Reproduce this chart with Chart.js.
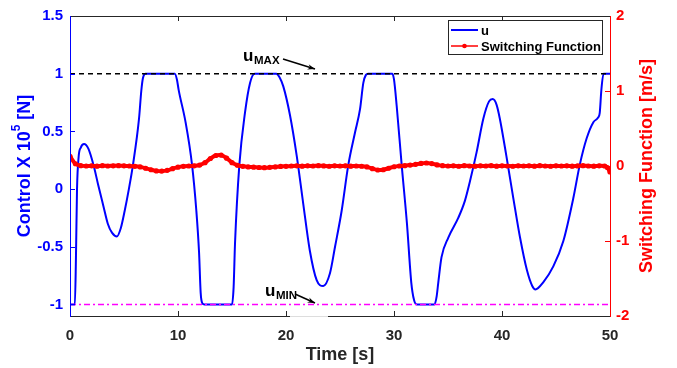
<!DOCTYPE html>
<html>
<head>
<meta charset="utf-8">
<script src="https://cdn.jsdelivr.net/npm/chart.js@4.4.1/dist/chart.umd.min.js"></script>
<style>
  html, body { margin: 0; padding: 0; background: #ffffff; }
  #wrap { width: 677px; height: 368px; }
</style>
</head>
<body>
<div id="wrap"><canvas id="c" width="677" height="368"></canvas></div>
<script>
// ---- data ----
const seriesNames = ["u", "Switching Function"];
const xTicks = [0, 10, 20, 30, 40, 50];
const yLeftTicks = [-1, -0.5, 0, 0.5, 1, 1.5];
const yRightTicks = [-2, -1, 0, 1, 2];
const uMax = 1;
const uMin = -1;

const uTime = [0, 0.45, 0.55, 0.65, 0.8, 1.0, 1.3, 1.7, 2.2, 2.6, 3.1, 3.5, 3.9, 4.35, 4.7, 5.06, 5.45, 5.83, 6.39, 6.6, 6.75, 7.0,
  9.7, 9.9, 10.06, 10.7, 11.3, 11.7, 11.95, 12.1, 12.25, 12.45,
  15.0, 15.15, 15.28, 15.68, 16.2, 16.67, 17.1,
  19.1, 19.4, 19.75, 20.37, 20.99, 21.6, 22.2, 22.84, 23.45, 24.07, 24.54, 25.15, 25.77, 26.39, 26.85, 27.16, 27.4, 27.6,
  29.85, 30.0, 30.25, 30.71, 31.2, 31.6, 31.85, 32.1,
  33.75, 33.95, 34.1, 34.4, 35.03, 35.95, 36.57, 37.04, 37.65, 38.27, 38.8, 39.14, 39.5, 39.8, 40.4, 41.05, 41.67, 42.3, 42.8, 43.1,
  43.8, 44.75, 45.68, 46.6, 47.2, 47.84, 48.46, 48.9, 49.05, 49.2, 49.4, 50];
const uValues = [-1, -1, -0.6, 0.0, 0.28, 0.36, 0.39, 0.35, 0.2, 0.04, -0.15, -0.30, -0.38, -0.41, -0.34, -0.19, 0.0, 0.21, 0.61, 0.85, 0.96, 1.0,
  1.0, 0.95, 0.86, 0.58, 0.21, -0.19, -0.55, -0.9, -0.99, -1.0,
  -1.0, -0.85, -0.47, 0.21, 0.66, 0.92, 1.0,
  1.0, 0.97, 0.89, 0.64, 0.29, -0.13, -0.53, -0.79, -0.84, -0.73, -0.50, -0.19, 0.21, 0.49, 0.69, 0.92, 0.99, 1.0,
  1.0, 0.95, 0.72, 0.21, -0.30, -0.81, -0.96, -1.0,
  -1.0, -0.93, -0.81, -0.59, -0.42, -0.25, -0.10, 0.07, 0.32, 0.61, 0.76, 0.78, 0.73, 0.61, 0.29, -0.08, -0.42, -0.70, -0.84, -0.87,
  -0.81, -0.67, -0.45, -0.08, 0.21, 0.44, 0.58, 0.62, 0.66, 0.86, 1.0, 1.0];

const sTime = [0, 0.5, 1, 1.5, 2, 2.5, 3, 3.5, 4, 4.5, 5, 5.5, 6, 6.5, 7, 7.5, 8, 8.5, 9, 9.5,
  10, 10.5, 11, 11.5, 12, 12.5, 13, 13.5, 14, 14.5, 15, 15.5, 16, 16.5, 17, 17.5, 18, 18.5, 19, 19.5,
  20, 20.5, 21, 21.5, 22, 22.5, 23, 23.5, 24, 24.5, 25, 25.5, 26, 26.5, 27, 27.5, 28, 28.5, 29, 29.5,
  30, 30.5, 31, 31.5, 32, 32.5, 33, 33.5, 34, 34.5, 35, 35.5, 36, 36.5, 37, 37.5, 38, 38.5, 39, 39.5,
  40, 40.5, 41, 41.5, 42, 42.5, 43, 43.5, 44, 44.5, 45, 45.5, 46, 46.5, 47, 47.5, 48, 48.5, 49, 49.5, 49.75, 50];
const sValues = [0.13, 0.03, 0.005, 0.0, 0.003, -0.002, 0.004, 0.0, 0.003, 0.005, 0.002, 0.0, -0.004, -0.012, -0.03, -0.05, -0.065, -0.068, -0.058, -0.035,
  -0.015, -0.004, 0.0, 0.002, 0.012, 0.045, 0.1, 0.14, 0.145, 0.105, 0.045, 0.01, -0.004, -0.012, -0.015, -0.02, -0.022, -0.018, -0.012, -0.006,
  -0.004, 0.0, 0.003, -0.002, 0.002, 0.0, 0.004, 0.001, -0.003, 0.002, 0.0, 0.003, -0.002, 0.0, -0.003, -0.012, -0.035, -0.053, -0.05, -0.03,
  -0.01, 0.0, 0.005, 0.012, 0.022, 0.035, 0.04, 0.032, 0.015, 0.005, 0.0, 0.002, -0.003, 0.004, 0.0, -0.002, 0.003, 0.0, 0.004, -0.002,
  0.002, 0.0, -0.003, 0.003, 0.0, 0.002, -0.002, 0.004, 0.0, -0.003, 0.002, 0.0, 0.003, -0.002, 0.001, 0.004, 0.0, -0.002, 0.003, 0.0, -0.02, -0.08];

// ---- build chart ----
const uData = uTime.map((t, i) => ({ x: t, y: uValues[i] }));
const sData = sTime.map((t, i) => ({ x: t, y: sValues[i] }));
const maxData = [{ x: xTicks[0], y: uMax }, { x: xTicks[xTicks.length - 1], y: uMax }];
const minData = [{ x: xTicks[0], y: uMin }, { x: xTicks[xTicks.length - 1], y: uMin }];

const FONT = "'Liberation Sans', Arial, sans-serif";
const DARK = '#262626';

const decor = {
  id: 'decor',
  afterDraw(chart) {
    const { ctx, chartArea: ca, scales } = chart;
    const x = scales.x, yL = scales.yL, yR = scales.yR;
    ctx.save();
    ctx.lineWidth = 1;
    // ticks inside
    ctx.strokeStyle = DARK;
    ctx.beginPath();
    xTicks.forEach(v => {
      const px = Math.round(x.getPixelForValue(v)) + 0.5;
      ctx.moveTo(px, ca.bottom); ctx.lineTo(px, ca.bottom - 5);
      ctx.moveTo(px, ca.top); ctx.lineTo(px, ca.top + 5);
    });
    ctx.stroke();
    ctx.strokeStyle = '#0000ff';
    ctx.beginPath();
    yLeftTicks.forEach(v => {
      const py = Math.round(yL.getPixelForValue(v)) + 0.5;
      ctx.moveTo(ca.left, py); ctx.lineTo(ca.left + 5, py);
    });
    ctx.stroke();
    ctx.strokeStyle = '#ff0000';
    ctx.beginPath();
    yRightTicks.forEach(v => {
      const py = Math.round(yR.getPixelForValue(v)) + 0.5;
      ctx.moveTo(ca.right, py); ctx.lineTo(ca.right - 5, py);
    });
    ctx.stroke();
    // frame
    ctx.strokeStyle = DARK;
    ctx.beginPath();
    ctx.moveTo(ca.left, ca.top + 0.5); ctx.lineTo(ca.right, ca.top + 0.5);
    ctx.moveTo(ca.left, ca.bottom + 0.5); ctx.lineTo(ca.right, ca.bottom + 0.5);
    ctx.stroke();
    // light patch on bottom axis (annotation box remnant)
    ctx.strokeStyle = '#dddddd';
    ctx.beginPath();
    ctx.moveTo(290, ca.bottom + 0.5); ctx.lineTo(328, ca.bottom + 0.5);
    ctx.stroke();
    ctx.strokeStyle = '#0000ff';
    ctx.beginPath();
    ctx.moveTo(ca.left + 0.5, ca.top); ctx.lineTo(ca.left + 0.5, ca.bottom + 1);
    ctx.stroke();
    ctx.strokeStyle = '#ff0000';
    ctx.beginPath();
    ctx.moveTo(ca.right + 0.5, ca.top); ctx.lineTo(ca.right + 0.5, ca.bottom + 1);
    ctx.stroke();

    // legend
    ctx.fillStyle = '#ffffff';
    ctx.fillRect(448, 21, 154, 33);
    ctx.strokeStyle = DARK;
    ctx.strokeRect(448.5, 20.5, 154, 34);
    ctx.lineWidth = 2;
    ctx.strokeStyle = '#0000ff';
    ctx.beginPath(); ctx.moveTo(451, 30); ctx.lineTo(478, 30); ctx.stroke();
    ctx.lineWidth = 1.5;
    ctx.strokeStyle = '#ff0000';
    ctx.beginPath(); ctx.moveTo(451, 46); ctx.lineTo(478, 46); ctx.stroke();
    ctx.fillStyle = '#ff0000';
    ctx.beginPath(); ctx.arc(464.5, 46, 2.3, 0, Math.PI * 2); ctx.fill();
    ctx.fillStyle = '#000000';
    ctx.font = 'bold 13px ' + FONT;
    ctx.textAlign = 'left';
    ctx.textBaseline = 'alphabetic';
    ctx.fillText(seriesNames[0], 481, 35);
    ctx.fillText(seriesNames[1], 481, 51);

    // annotations
    function arrow(x1, y1, x2, y2) {
      ctx.strokeStyle = '#000000';
      ctx.lineWidth = 1.5;
      ctx.beginPath(); ctx.moveTo(x1, y1); ctx.lineTo(x2, y2); ctx.stroke();
      const a = Math.atan2(y2 - y1, x2 - x1);
      ctx.fillStyle = '#000000';
      ctx.beginPath();
      ctx.moveTo(x2, y2);
      ctx.lineTo(x2 - 8 * Math.cos(a - 0.35), y2 - 8 * Math.sin(a - 0.35));
      ctx.lineTo(x2 - 5 * Math.cos(a), y2 - 5 * Math.sin(a));
      ctx.lineTo(x2 - 8 * Math.cos(a + 0.35), y2 - 8 * Math.sin(a + 0.35));
      ctx.closePath(); ctx.fill();
    }
    ctx.fillStyle = '#000000';
    ctx.font = 'bold 17px ' + FONT;
    ctx.fillText('u', 243, 61);
    ctx.font = 'bold 11.5px ' + FONT;
    ctx.fillText('MAX', 254, 64);
    arrow(283, 59, 315, 69);
    ctx.font = 'bold 17px ' + FONT;
    ctx.fillStyle = '#000000';
    ctx.fillText('u', 265, 296);
    ctx.font = 'bold 11.5px ' + FONT;
    ctx.fillText('MIN', 276, 299);
    arrow(295, 294, 315, 303);

    // axis titles
    ctx.fillStyle = DARK;
    ctx.font = 'bold 18px ' + FONT;
    ctx.textAlign = 'center';
    ctx.textBaseline = 'alphabetic';
    ctx.fillText('Time [s]', (ca.left + ca.right) / 2, 360);

    // left title with superscript
    const cy = (ca.top + ca.bottom) / 2;
    ctx.save();
    ctx.translate(25, cy);
    ctx.rotate(-Math.PI / 2);
    ctx.fillStyle = '#0000ff';
    ctx.textAlign = 'left';
    ctx.textBaseline = 'middle';
    const p1 = 'Control X 10', p2 = '5', p3 = ' [N]';
    ctx.font = 'bold 18px ' + FONT;
    const w1 = ctx.measureText(p1).width, w3 = ctx.measureText(p3).width;
    ctx.font = 'bold 12px ' + FONT;
    const w2 = ctx.measureText(p2).width;
    let sx = -(w1 + w2 + w3) / 2;
    ctx.font = 'bold 18px ' + FONT;
    ctx.fillText(p1, sx, 0);
    ctx.font = 'bold 12px ' + FONT;
    ctx.fillText(p2, sx + w1, -8);
    ctx.font = 'bold 18px ' + FONT;
    ctx.fillText(p3, sx + w1 + w2, 0);
    ctx.restore();

    // right title
    ctx.save();
    ctx.translate(647, cy);
    ctx.rotate(-Math.PI / 2);
    ctx.fillStyle = '#ff0000';
    ctx.textAlign = 'center';
    ctx.textBaseline = 'middle';
    ctx.font = 'bold 18px ' + FONT;
    ctx.fillText('Switching Function [m/s]', 0, 0);
    ctx.restore();

    ctx.restore();
  }
};

new Chart(document.getElementById('c'), {
  type: 'line',
  data: {
    datasets: [
      { label: 'uMin', data: minData, yAxisID: 'yL', borderColor: '#ff00ff', borderWidth: 1.5,
        borderDash: [6, 3, 2, 3], pointRadius: 0, order: 0 },
      { label: 'uMax', data: maxData, yAxisID: 'yL', borderColor: '#000000', borderWidth: 1.5,
        borderDash: [5, 4], pointRadius: 0, order: 1 },
      { label: seriesNames[1], data: sData, yAxisID: 'yR', borderColor: '#ff0000', backgroundColor: '#ff0000',
        borderWidth: 4, pointRadius: 2.6, pointBorderWidth: 0, pointBackgroundColor: '#ff0000', order: 2, tension: 0.3 },
      { label: seriesNames[0], data: uData, yAxisID: 'yL', borderColor: '#0000ff', borderWidth: 2,
        pointRadius: 0, cubicInterpolationMode: 'monotone', order: 3 }
    ]
  },
  options: {
    responsive: false,
    animation: false,
    devicePixelRatio: 1,
    layout: { padding: { top: 12, left: 0, right: 0, bottom: 0 } },
    plugins: { legend: { display: false }, tooltip: { enabled: false } },
    scales: {
      x: {
        type: 'linear', position: 'bottom', min: 0, max: 50,
        afterFit: s => { s.height = 52; },
        afterBuildTicks: s => { s.ticks = xTicks.map(v => ({ value: v })); },
        grid: { display: false, drawTicks: false }, border: { display: false },
        ticks: { color: DARK, padding: 11, font: { family: FONT, size: 15, weight: 'bold' }, maxRotation: 0,
          callback: v => String(v) }
      },
      yL: {
        type: 'linear', position: 'left', min: -1.1, max: 1.5,
        afterFit: s => { s.width = 70; },
        afterBuildTicks: s => { s.ticks = yLeftTicks.map(v => ({ value: v })); },
        grid: { display: false, drawTicks: false }, border: { display: false },
        ticks: { color: '#0000ff', padding: 7, font: { family: FONT, size: 15, weight: 'bold' },
          callback: v => String(v) }
      },
      yR: {
        type: 'linear', position: 'right', min: -2, max: 2,
        afterFit: s => { s.width = 67; },
        afterBuildTicks: s => { s.ticks = yRightTicks.map(v => ({ value: v })); },
        grid: { display: false, drawTicks: false }, border: { display: false },
        ticks: { color: '#ff0000', padding: 6, font: { family: FONT, size: 15, weight: 'bold' },
          callback: v => String(v) }
      }
    }
  },
  plugins: [decor]
});
</script>
</body>
</html>
